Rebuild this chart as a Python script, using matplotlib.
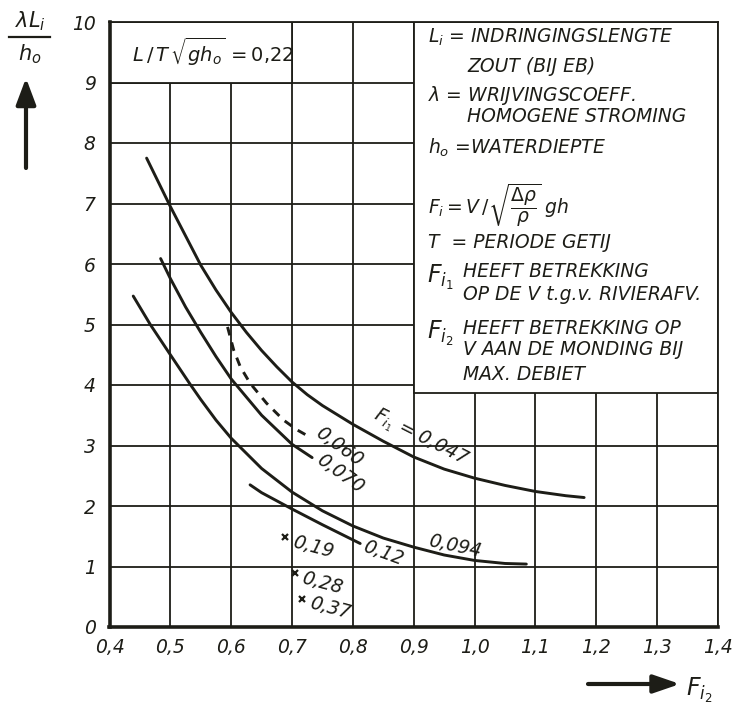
import matplotlib
matplotlib.use('Agg')
import matplotlib.pyplot as plt
from matplotlib.patches import Rectangle
from matplotlib.lines import Line2D
from matplotlib.ticker import FixedLocator, FixedFormatter

INK = '#1d1d17'
plt.rcParams['font.family'] = ['DejaVu Sans']
plt.rcParams['mathtext.fontset'] = 'dejavusans'

# ---------------- data ----------------
x_ticks = [0.4, 0.5, 0.6, 0.7, 0.8, 0.9, 1.0, 1.1, 1.2, 1.3, 1.4]
x_tick_labels = ['0,4', '0,5', '0,6', '0,7', '0,8', '0,9', '1,0', '1,1', '1,2', '1,3', '1,4']
y_ticks = [0, 1, 2, 3, 4, 5, 6, 7, 8, 9, 10]
y_tick_labels = ['0', '1', '2', '3', '4', '5', '6', '7', '8', '9', '10']

fi2_047 = [0.461, 0.50, 0.55, 0.575, 0.60, 0.625, 0.65, 0.675, 0.70, 0.725, 0.75, 0.80,
           0.85, 0.90, 0.95, 1.00, 1.05, 1.10, 1.15, 1.18]
val_047 = [7.75, 6.95, 5.98, 5.57, 5.20, 4.87, 4.57, 4.30, 4.05, 3.84, 3.66, 3.35,
           3.07, 2.81, 2.61, 2.46, 2.34, 2.24, 2.17, 2.14]

fi2_070 = [0.484, 0.50, 0.525, 0.55, 0.575, 0.60, 0.65, 0.70, 0.733]
val_070 = [6.09, 5.76, 5.29, 4.87, 4.47, 4.10, 3.50, 3.02, 2.80]

fi2_060 = [0.594, 0.604, 0.615, 0.631, 0.658, 0.686, 0.708, 0.722]
val_060 = [4.96, 4.58, 4.30, 4.03, 3.70, 3.42, 3.26, 3.18]

fi2_094 = [0.439, 0.467, 0.50, 0.532, 0.55, 0.575, 0.60, 0.65, 0.70, 0.75, 0.80,
           0.85, 0.90, 0.95, 1.00, 1.05, 1.085]
val_094 = [5.47, 5.00, 4.50, 4.02, 3.76, 3.42, 3.12, 2.62, 2.23, 1.92, 1.67,
           1.47, 1.32, 1.19, 1.10, 1.05, 1.04]

fi2_012 = [0.631, 0.65, 0.70, 0.75, 0.80, 0.812]
val_012 = [2.35, 2.22, 1.95, 1.69, 1.44, 1.38]

point_fi2 = [0.689, 0.705, 0.717]
point_val = [1.48, 0.89, 0.47]
point_labels = ['0,19', '0,28', '0,37']

# ---------------- figure ----------------
W, H = 735, 708
fig = plt.figure(figsize=(W / 100, H / 100), dpi=100, facecolor='white')
ax = fig.add_axes([109.5 / W, 1 - 627 / H, (718 - 109.5) / W, (627 - 22) / H])
ax.set_facecolor('white')
ax.set_xlim(0.4, 1.4)
ax.set_ylim(0, 10)

ax.xaxis.set_major_locator(FixedLocator(x_ticks))
ax.xaxis.set_major_formatter(FixedFormatter(x_tick_labels))
ax.yaxis.set_major_locator(FixedLocator(y_ticks))
ax.yaxis.set_major_formatter(FixedFormatter(y_tick_labels))
ax.tick_params(axis='both', length=0, labelsize=13.5, colors=INK)
ax.tick_params(axis='x', pad=8)
ax.tick_params(axis='y', pad=10)
for lab in ax.get_xticklabels() + ax.get_yticklabels():
    lab.set_fontstyle('italic')

ax.set_axisbelow(True)
ax.grid(True, color=INK, lw=1.3)
for s in ['top', 'right']:
    ax.spines[s].set_linewidth(1.3)
    ax.spines[s].set_color(INK)
for s in ['left', 'bottom']:
    ax.spines[s].set_linewidth(2.6)
    ax.spines[s].set_color(INK)

# white boxes covering the grid
ax.add_patch(Rectangle((0.4, 9.0), 0.3, 1.0, facecolor='white', edgecolor=INK, lw=1.3, zorder=1))
ax.add_patch(Rectangle((0.9, 3.87), 0.5, 6.13, facecolor='white', edgecolor=INK, lw=1.3, zorder=1))

# curves
kw = dict(color=INK, lw=2.1, solid_capstyle='round', solid_joinstyle='round', zorder=3)
ax.plot(fi2_047, val_047, **kw)
ax.plot(fi2_070, val_070, **kw)
ax.plot(fi2_094, val_094, **kw)
ax.plot(fi2_012, val_012, **kw)
ax.plot(fi2_060, val_060, color=INK, lw=2.1, ls=(0, (3, 2.5)), zorder=3)
ax.plot(point_fi2, point_val, ls='none', marker='x', ms=5, mew=1.6, color=INK, zorder=3)

tkw = dict(color=INK, fontsize=13.5, fontstyle='italic', ha='center', va='center',
           rotation_mode='anchor', zorder=4)
ax.text(0.911, 3.12, r'$F_{i_1}$ = 0,047', rotation=-27, **tkw)
ax.text(0.777, 2.98, '0,060', rotation=-36, **tkw)
ax.text(0.779, 2.54, '0,070', rotation=-36, **tkw)
ax.text(0.850, 1.22, '0,12', rotation=-20, **tkw)
ax.text(0.968, 1.34, '0,094', rotation=-12, **tkw)
for px, py, lab in zip(point_fi2, point_val, point_labels):
    ax.text(px + 0.045, py - 0.16, lab, rotation=-15, **tkw)

# parameter box (top-left)
ax.text(0.437, 9.5, r'$L\,/\,T\,\sqrt{gh_o}\,=\mathit{0{,}22}$', color=INK, fontsize=14,
        ha='left', va='center', zorder=4)

# legend box text
bkw = dict(color=INK, fontsize=13.5, fontstyle='italic', ha='left', va='center', zorder=4)
xa, xb, xc = 0.924, 0.988, 0.981
ax.text(xa, 9.75, r'$L_i$ = INDRINGINGSLENGTE', **bkw)
ax.text(xb, 9.26, 'ZOUT (BIJ EB)', **bkw)
ax.text(xa, 8.79, r'$\lambda$ = WRIJVINGSCOEFF.', **bkw)
ax.text(xb, 8.43, 'HOMOGENE STROMING', **bkw)
ax.text(xa, 7.92, r'$h_o$ =WATERDIEPTE', **bkw)
ax.text(xa, 6.98, r'$F_i=V\,/\sqrt{\dfrac{\Delta\rho}{\rho}}\;gh$', **bkw)
ax.text(xa, 6.35, 'T  = PERIODE GETIJ', **bkw)
ax.text(xa - 0.002, 5.78, r'$F_{i_1}$', color=INK, fontsize=17, ha='left', va='center', zorder=4)
ax.text(xc, 5.87, 'HEEFT BETREKKING', **bkw)
ax.text(xc, 5.49, 'OP DE V t.g.v. RIVIERAFV.', **bkw)
ax.text(xa - 0.002, 4.85, r'$F_{i_2}$', color=INK, fontsize=17, ha='left', va='center', zorder=4)
ax.text(xc, 4.94, 'HEEFT BETREKKING OP', **bkw)
ax.text(xc, 4.58, 'V AAN DE MONDING BIJ', **bkw)
ax.text(xc, 4.17, 'MAX. DEBIET', **bkw)

# y-axis label (fraction) and arrow
fig.text(30 / W, 1 - 21 / H, r'$\lambda L_i$', color=INK, fontsize=15, ha='center', va='center')
fig.add_artist(Line2D([9 / W, 50 / W], [1 - 37 / H, 1 - 37 / H], color=INK, lw=1.6))
fig.text(30 / W, 1 - 54 / H, r'$h_o$', color=INK, fontsize=15, ha='center', va='center')
ax.annotate('', xy=(26, H - 78), xytext=(26, H - 168), xycoords='figure pixels',
            textcoords='figure pixels',
            arrowprops=dict(arrowstyle='-|>,head_length=1.6,head_width=0.6', lw=3,
                            color=INK, shrinkA=0, shrinkB=0))

# x-axis label and arrow
ax.annotate('', xy=(680, H - 684), xytext=(588, H - 684), xycoords='figure pixels',
            textcoords='figure pixels',
            arrowprops=dict(arrowstyle='-|>,head_length=1.6,head_width=0.55', lw=3,
                            color=INK, shrinkA=0, shrinkB=0))
fig.text(686 / W, 1 - 696 / H, r'$F_{i_2}$', color=INK, fontsize=17, ha='left', va='baseline')

fig.savefig('out.png', dpi=100, facecolor='white')
